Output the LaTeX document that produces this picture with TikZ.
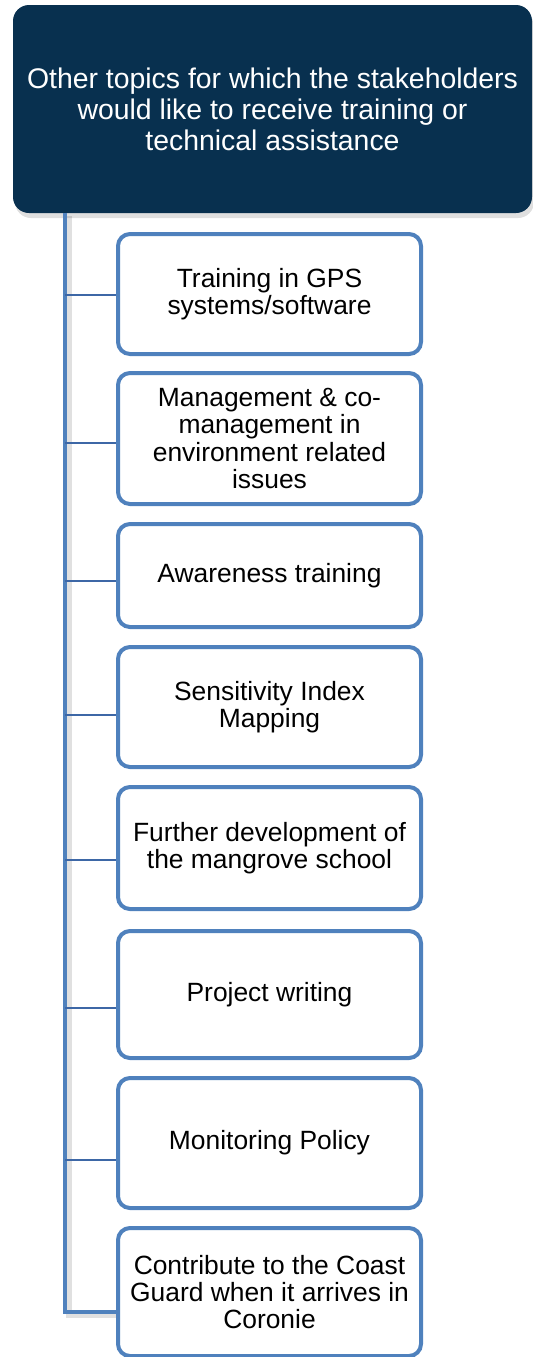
\documentclass[tikz,border=0pt]{standalone}
\usepackage{fontspec}
\setmainfont{Liberation Sans}
\usetikzlibrary{positioning, shadows}
\definecolor{topicNavy}{HTML}{08304F}
\definecolor{itemBlue}{HTML}{4F81BD}
\definecolor{linkBlue}{HTML}{3D67A6}

\begin{document}
\begin{tikzpicture}[x=0.5pt, y=-0.5pt,
	topic/.style={rectangle, rounded corners=8pt, fill=topicNavy, text=white, align=center,
		inner sep=0pt, font=\fontsize{14.2}{15.5}\selectfont,
		drop shadow={shadow xshift=1pt, shadow yshift=-2.5pt, opacity=0.25}},
	item/.style={rectangle, rounded corners=6pt, draw=itemBlue, line width=2pt, fill=white,
		align=center, inner sep=0pt, minimum width=151.5pt, font=\fontsize{13.2}{13.7}\selectfont},
	trunk/.style={draw=itemBlue, line width=2pt},
	link/.style={draw=linkBlue, line width=1pt}]
		\useasboundingbox (0,0) rectangle (533,1357);
		%-------------------------------------------------------------------------------
		% header
		%-------------------------------------------------------------------------------
		\node[topic, minimum width=259.5pt, minimum height=104pt] (topic) 
			at (272.5,109) {Other topics for which the stakeholders\\would like to receive training or\\technical assistance};
		\coordinate (trunk) at (65,213);

		% item boxes
		\node[item, minimum height=60pt] (c1) 
			at (269.5,294) {Training in GPS\\systems/software};
		\node[item, minimum height=65.5pt] (c2) 
			at (269.5,438.5) {Management \& co-\\management in\\environment related\\issues};
		\node[item, minimum height=51.5pt] (c3) 
			at (269.5,575.5) {Awareness training};
		\node[item, minimum height=60pt] (c4) 
			at (269.5,707) {Sensitivity Index\\Mapping};
		\node[item, minimum height=61pt] (c5) 
			at (269.5,848) {Further development of\\the mangrove school};
		\node[item, minimum height=63.5pt] (c6) 
			at (269.5,994.5) {Project writing};
		\node[item, minimum height=65pt] (c7) 
			at (269.5,1143) {Monitoring Policy};
		\node[item, minimum height=64pt] (c8) 
			at (269.5,1292) {Contribute to the Coast\\Guard when it arrives in\\Coronie};

		% joints on the box sides
		\foreach \i/\d in {1/0.5, 2/2.25, 3/2.75, 4/4, 5/6, 6/6.75, 7/8.5, 8/10}
			\coordinate (j\i) at ([yshift=-\d pt]c\i.west);

		% trunk with its shadow
		\draw[black, opacity=0.12, line width=3pt] ([xshift=2pt, yshift=-1.5pt]trunk) |- ([yshift=-1.5pt]j8);
		\draw[trunk] (trunk) |- (j8);
		% branches
		\foreach \i in {1,...,7}
			\draw[link] (j\i -| trunk) -- (j\i);
		\end{tikzpicture}
\end{document}
